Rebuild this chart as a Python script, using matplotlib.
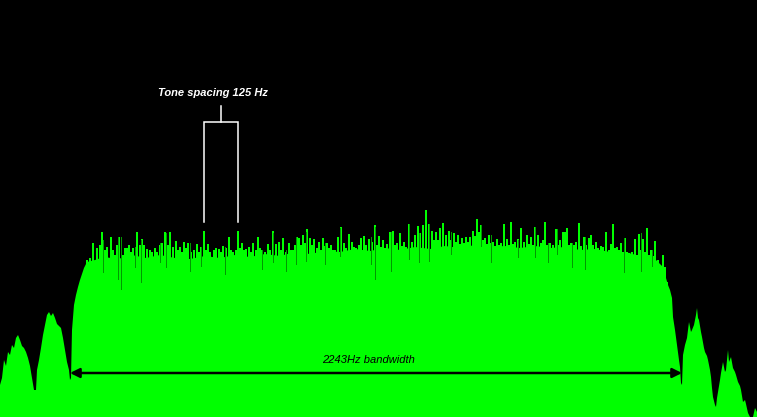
import matplotlib
matplotlib.use("Agg")
import matplotlib.pyplot as plt

# ---- data (x = FFT bin, ~3.67 Hz per bin; level = display units, 0 = top) ----
env_bin = [0, 2, 4, 6, 8, 10, 12, 14, 16, 18, 20, 22, 24, 26, 28, 30, 32, 34, 36,
           37, 39, 41, 43, 45, 47, 49, 51, 53, 55, 57, 59, 61, 63, 65, 67, 69, 70,
           71, 72, 74, 76, 78, 80, 82, 84, 87, 95, 104, 118, 132, 146, 160, 175,
           190, 205, 220, 235, 250, 265, 280, 295, 310, 325, 340, 355, 370, 385,
           400, 415, 430, 445, 460, 475, 490, 505, 520, 535, 550, 565, 580, 595,
           610, 625, 640, 650, 656, 660, 663, 666, 668, 670, 672, 673, 675, 677,
           679, 680, 681, 682, 683, 685, 687, 689, 691, 692, 694, 696, 697, 698,
           699, 701, 702, 704, 705, 707, 708, 710, 711, 712, 713, 715, 716, 717,
           718, 720, 721, 723, 725, 726, 728, 729, 731, 733, 735, 736, 738, 740,
           741, 743, 745, 746, 748, 750, 753, 755, 757]
env_lvl = [-385, -378, -360, -366, -352, -355, -345, -348, -338, -335, -340, -346,
           -348, -352, -358, -366, -378, -390, -390, -370, -360, -348, -335, -325,
           -315, -312, -316, -313, -318, -324, -326, -328, -338, -350, -362, -370,
           -380, -378, -330, -305, -295, -287, -280, -274, -268, -262, -260, -257,
           -259, -255, -258, -255, -258, -259, -256, -258, -255, -257, -254, -256,
           -252, -254, -251, -252, -249, -251, -248, -250, -247, -249, -246, -248,
           -245, -247, -246, -248, -246, -248, -247, -250, -249, -252, -252, -256,
           -257, -260, -264, -267, -278, -285, -290, -298, -317, -330, -345, -360,
           -367, -383, -385, -355, -345, -338, -322, -332, -330, -325, -315, -308,
           -318, -320, -332, -337, -348, -352, -356, -360, -370, -377, -388, -397,
           -405, -407, -398, -392, -380, -373, -362, -372, -370, -350, -362, -357,
           -368, -372, -375, -382, -386, -390, -402, -400, -404, -413, -417, -417,
           -408, -412]

spk_bin = [87, 90, 93, 97, 100, 102, 105, 107, 111, 113, 115, 117, 119, 123, 125,
           127, 129, 131, 133, 137, 140, 142, 144, 147, 150, 152, 155, 157, 160,
           162, 165, 168, 170, 173, 176, 178, 180, 182, 184,
           186, 188, 191, 194, 197, 199, 201, 204, 206, 208, 210, 212, 214, 216,
           219, 221, 223, 226, 229, 231, 233, 236, 238, 240, 242, 244, 246, 249,
           251, 253, 256, 258, 260, 262, 265, 268, 270, 273, 276, 279, 281, 283,
           286, 289, 291, 293, 295, 297, 299, 301, 303, 305, 307, 310,
           312, 314, 317, 319, 321, 323, 325, 327, 329, 331, 333, 335, 338, 341,
           344, 346, 349, 352, 354, 356, 359, 361, 364, 366, 369, 372, 375, 377,
           379, 381, 383, 385, 387, 390, 393, 395, 397, 400, 402, 404, 406, 409,
           412, 415, 418, 420, 423, 426, 429, 432, 434, 436,
           438, 440, 443, 446, 449, 451, 454, 456, 458, 460, 462, 464, 466, 468,
           470, 473, 475, 477, 479, 481, 483, 485, 487, 489, 491, 493, 495, 497,
           499, 501, 504, 507, 509, 511, 513, 515, 518, 521, 524, 527, 529, 531,
           533, 535, 538, 541, 543, 545, 547, 550, 553, 556, 558, 560, 563,
           565, 567, 569, 571, 574, 576, 579, 581, 584, 586, 589, 591, 593, 596,
           598, 601, 603, 606, 609, 611, 613, 615, 617, 619, 621, 623, 625, 627,
           629, 632, 635, 637, 639, 641, 643, 645, 647, 649, 651, 653, 655, 658,
           661, 663, 665, 667]
spk_lvl = [-260, -258, -243, -248, -245, -232, -250, -247, -237, -250, -255, -245,
           -237, -255, -248, -248, -245, -252, -248, -232, -245, -239, -245, -249,
           -250, -252, -248, -252, -245, -243, -232, -245, -232, -247, -241, -250,
           -247, -252, -242,
           -248, -243, -252, -250, -244, -252, -247, -231, -250, -244, -252, -258,
           -250, -248, -249, -252, -246, -248, -237, -250, -252, -250, -231, -248,
           -243, -250, -249, -247, -252, -243, -250, -237, -248, -250, -252, -244,
           -250, -231, -244, -242, -250, -238, -252, -243, -250, -250, -245, -237,
           -238, -245, -235, -243, -229, -238,
           -245, -239, -248, -242, -250, -238, -246, -243, -248, -245, -250, -250,
           -237, -227, -243, -248, -234, -242, -247, -248, -245, -238, -236, -245,
           -239, -242, -225, -245, -236, -247, -240, -248, -244, -232, -231, -245,
           -243, -233, -246, -242, -247, -224, -242, -235, -226, -233, -225, -210,
           -224, -231, -240, -232,
           -240, -228, -223, -235, -231, -240, -233, -242, -235, -244, -238, -243,
           -237, -242, -237, -231, -236, -219, -232, -225, -240, -238, -244, -235,
           -243, -242, -246, -239, -245, -243, -224, -239, -245, -222, -244, -242,
           -239, -228, -242, -235, -244, -237, -245, -227, -235, -243, -240, -222,
           -245, -243, -245, -229, -245, -240, -232,
           -232, -228, -245, -243, -245, -242, -223, -246, -237, -245, -238, -235,
           -245, -242, -248, -246, -247, -232, -250, -244, -224, -248, -247, -250,
           -243, -252, -238, -252, -253, -252, -239, -255, -234, -250, -239, -252,
           -228, -255, -250, -256, -241, -260, -267, -255, -267, -282]

# darker (hold trace) segments
drk_bin = [103, 118, 121, 135, 141, 160, 166, 190, 201, 225, 262, 273, 286, 296,
           306, 325, 340, 371, 375, 391, 409, 419, 429, 451, 481, 491, 518, 535,
           548, 557, 572, 585, 624, 641, 652]
drk_top = [-240, -237, -237, -247, -240, -243, -233, -243, -247, -247, -250, -233,
           -250, -237, -232, -243, -228, -237, -227, -232, -224, -233, -224, -232,
           -225, -235, -240, -227, -243, -229, -243, -237, -238, -233, -250]
drk_bot = [-273, -280, -290, -268, -283, -263, -268, -272, -267, -275, -270, -263,
           -272, -265, -262, -265, -257, -265, -280, -272, -260, -263, -262, -255,
           -247, -263, -258, -258, -263, -255, -268, -270, -273, -272, -267]

bw_start, bw_end = 70, 682
tone_a, tone_b = 204, 238
bw_label = "2243Hz bandwidth"
tone_label = "Tone spacing 125 Hz"

FLOOR = -417

fig = plt.figure(figsize=(7.57, 4.17), dpi=100, facecolor="black")
ax = fig.add_axes([0, 0, 1, 1])
ax.set_facecolor("black")
ax.set_xlim(0, 757)
ax.set_ylim(FLOOR, 0)
ax.axis("off")

ax.fill_between(env_bin, FLOOR, env_lvl, color="#00FF00", lw=0)
spk_h = [v - FLOOR for v in spk_lvl]
ax.bar(spk_bin, spk_h, bottom=FLOOR, width=1.4, color="#00FF00", lw=0,
       antialiased=False)
drk_h = [t - b for t, b in zip(drk_top, drk_bot)]
ax.bar(drk_bin, drk_h, bottom=drk_bot, width=1.0, color="#009A00", lw=0,
       antialiased=False)

# bandwidth arrow
ax.annotate("", xy=(bw_start, -373), xytext=(bw_end, -373),
            arrowprops=dict(arrowstyle="<|-|>", color="black", lw=1.8,
                            mutation_scale=14, shrinkA=0, shrinkB=0))
ax.text((bw_start + bw_end) / 2 - 8, -360, bw_label, ha="center", va="center",
        style="italic", fontsize=8, family="Liberation Sans", color="black")

# tone spacing bracket
mid = (tone_a + tone_b) / 2
ax.plot([tone_a, tone_a, tone_b, tone_b], [-222, -122, -122, -222],
        color="white", lw=1.1, solid_joinstyle="miter")
ax.plot([mid, mid], [-122, -106], color="white", lw=1.1)
ax.text(mid - 8, -93, tone_label, ha="center", va="center", style="italic",
        weight="bold", fontsize=8, family="Liberation Sans", color="white")

fig.savefig("out.png", dpi=100, facecolor="black")
